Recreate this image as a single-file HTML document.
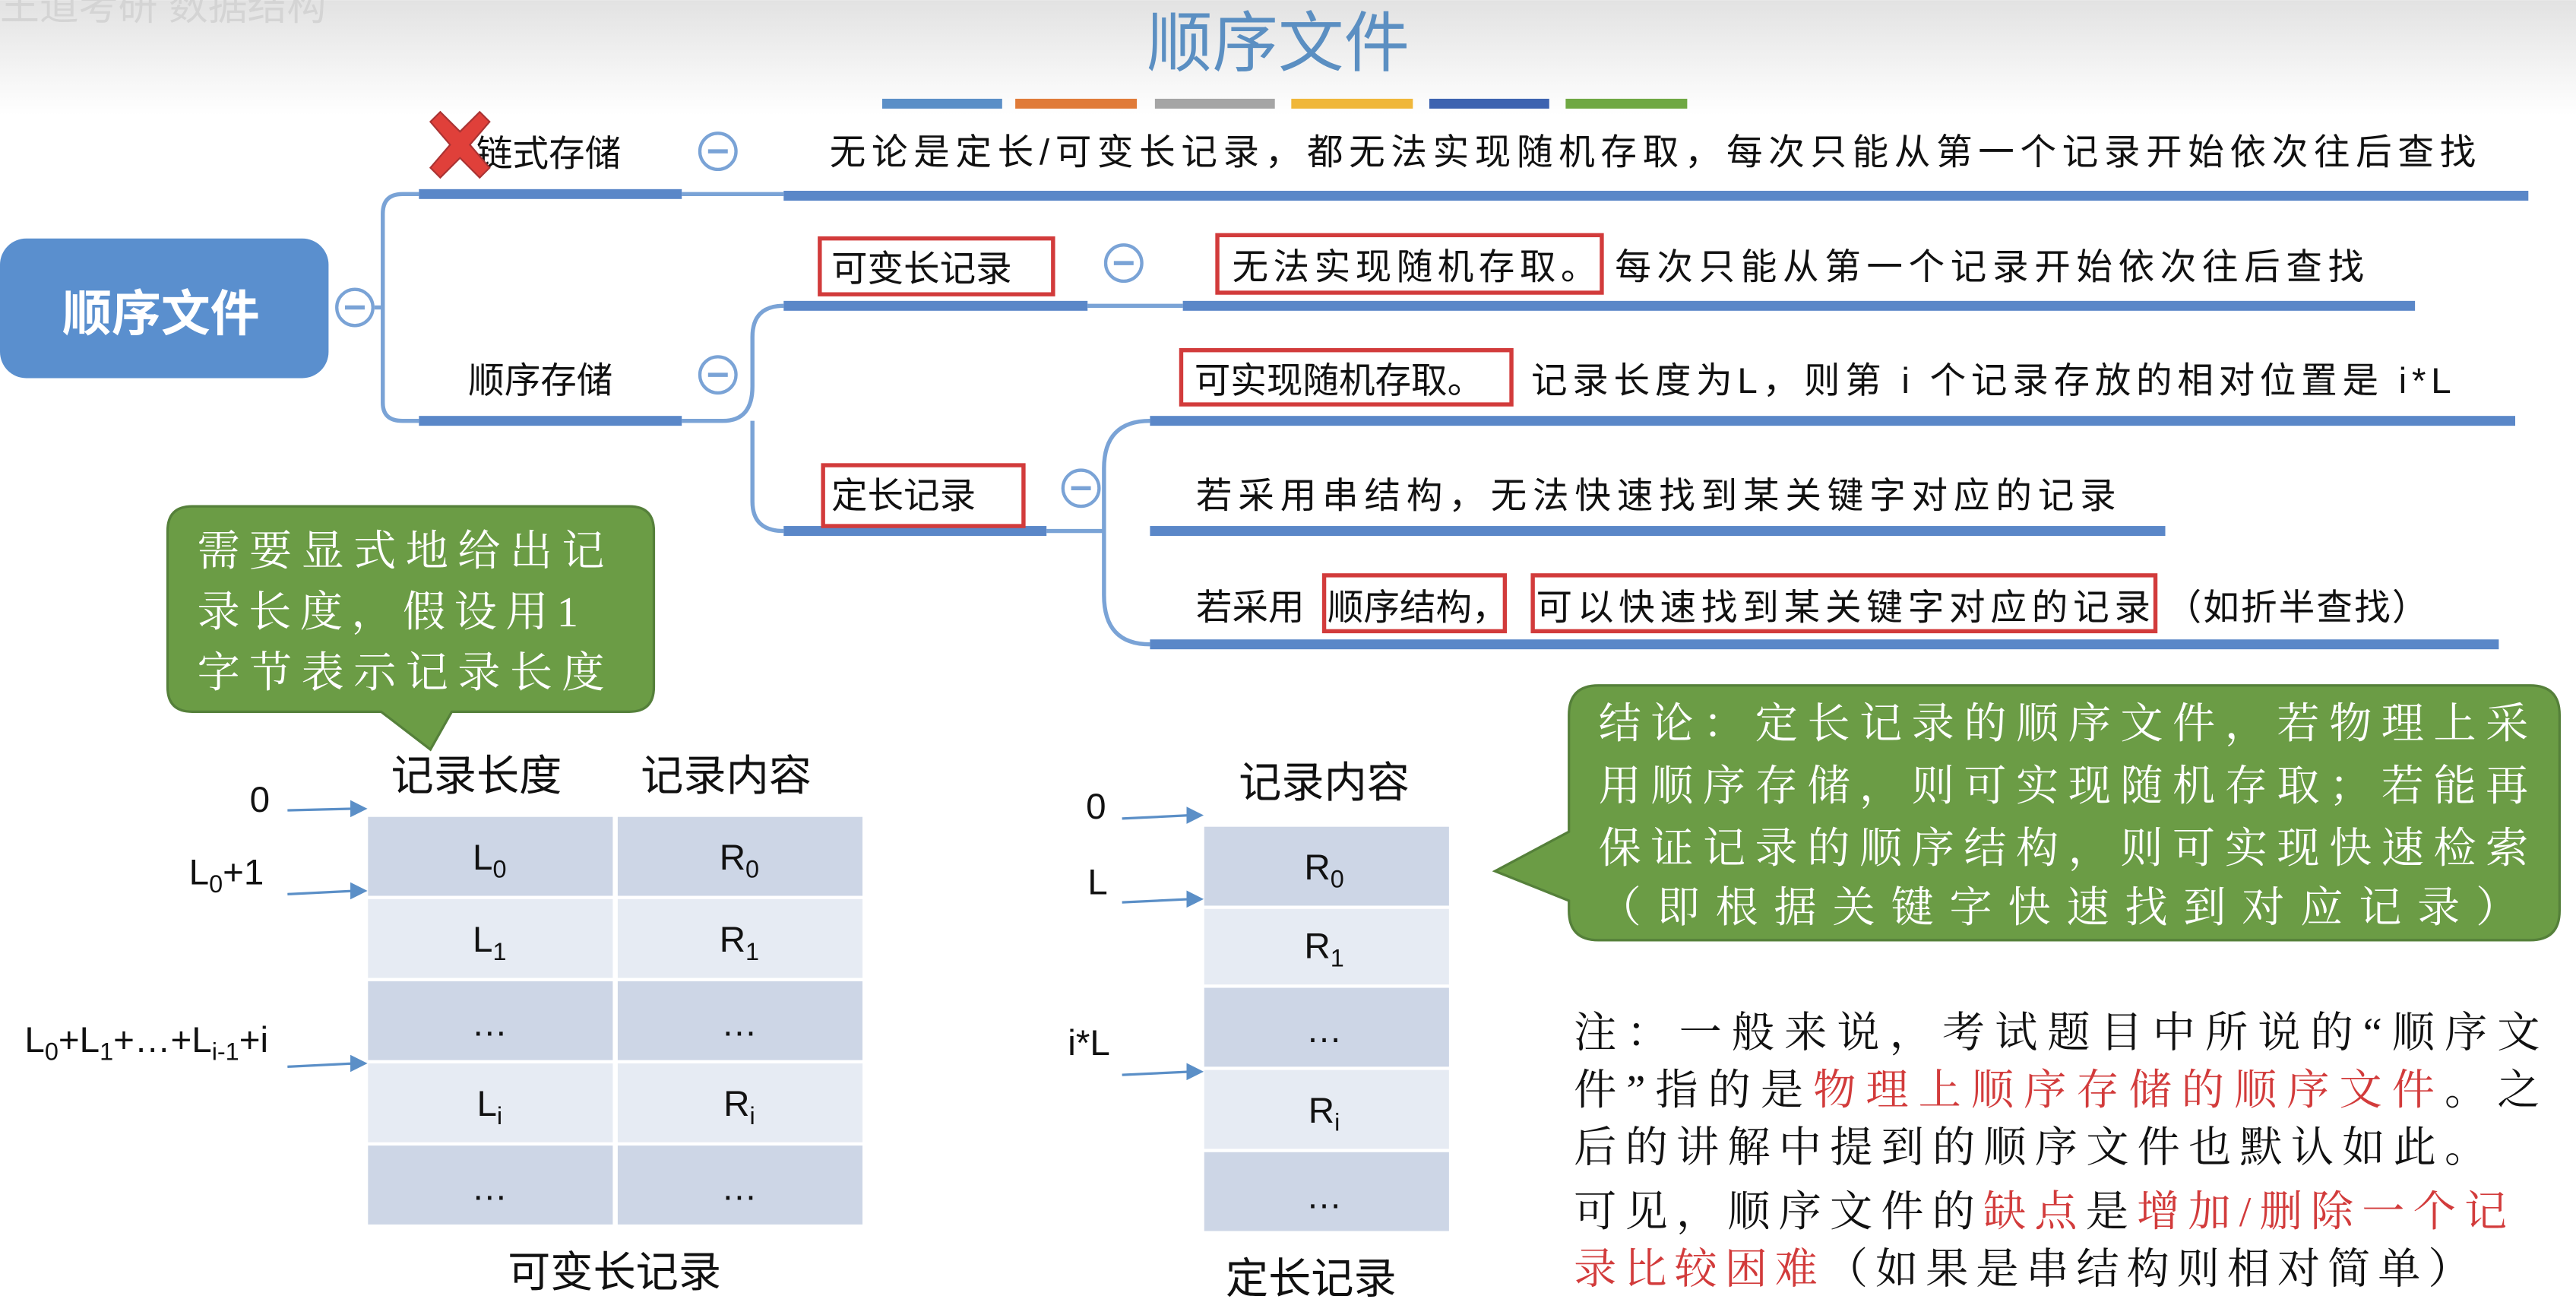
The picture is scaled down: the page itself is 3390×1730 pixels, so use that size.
<!DOCTYPE html>
<html><head><meta charset="utf-8"><style>
html,body{margin:0;padding:0;background:#fff;}
svg{display:block;}
.s{font-family:"Liberation Sans","Noto Sans CJK SC",sans-serif;}
.r{font-family:"Liberation Serif","Noto Serif CJK SC",serif;}
</style></head><body>
<svg width="3390" height="1730" viewBox="0 0 1568 800" xmlns="http://www.w3.org/2000/svg">
<defs>
<linearGradient id="bg" x1="0" y1="0" x2="0" y2="1">
<stop offset="0" stop-color="#e2e2e2"/><stop offset="1" stop-color="#ffffff"/>
</linearGradient>
</defs>
<rect width="1568" height="800" fill="#fff"/>
<rect width="1568" height="70" fill="url(#bg)"/>
<text x="0" y="12" class="s" font-size="24" fill="#d4d4d4">王道考研 数据结构</text>
<text x="778" y="40" class="s" font-size="40" fill="#5b8fc2" text-anchor="middle">顺序文件</text>
<g>
<rect x="537" y="60" width="73" height="6" fill="#5b8fc7"/>
<rect x="618" y="60" width="74" height="6" fill="#e07b39"/>
<rect x="703" y="60" width="73" height="6" fill="#a5a5a5"/>
<rect x="786" y="60" width="74" height="6" fill="#f0b73a"/>
<rect x="870" y="60" width="73" height="6" fill="#3d63b0"/>
<rect x="953" y="60" width="74" height="6" fill="#6fa843"/>
</g>
<!-- connectors -->
<g fill="none" stroke="#7aa3d6" stroke-width="2.5">
<path d="M228 187 L233 187"/>
<path d="M255 118 L245 118 Q233 118 233 130 L233 245 Q233 256 245 256 L255 256"/>
<path d="M415 118 L477 118"/>
<path d="M415 256 L440 256 Q458 256 458 235 L458 205 Q458 186 477 186"/>
<path d="M458 256 L458 305 Q458 323 477 323"/>
<path d="M662 186 L720 186"/>
<path d="M637 323 L672 323"/>
<path d="M700 256 Q672 256 672 285 L672 362 Q672 392 700 392"/>
</g>
<g fill="#5a87c8">
<rect x="255" y="115" width="160" height="6"/>
<rect x="477" y="116" width="1062" height="6"/>
<rect x="255" y="253" width="160" height="6"/>
<rect x="477" y="183" width="185" height="6"/>
<rect x="720" y="183" width="750" height="6"/>
<rect x="477" y="320" width="160" height="6"/>
<rect x="700" y="253" width="831" height="6"/>
<rect x="700" y="320" width="618" height="6"/>
<rect x="700" y="389" width="821" height="6"/>
</g>
<!-- root -->
<rect x="0" y="145" width="200" height="85" rx="16" fill="#5a8fce"/>
<text x="98" y="201" class="s" font-size="30" font-weight="bold" fill="#fff" text-anchor="middle">顺序文件</text>
<g fill="#fff" stroke="#7aa3d6" stroke-width="2">
<circle cx="216" cy="187" r="11"/><circle cx="437" cy="92" r="11"/><circle cx="437" cy="228" r="11"/>
<circle cx="684" cy="160" r="11"/><circle cx="658" cy="297" r="11"/>
</g>
<g stroke="#7aa3d6" stroke-width="2.5">
<path d="M210 187h12M431 92h12M431 228h12M678 160h12M652 297h12"/>
</g>
<!-- text -->
<g class="s" font-size="22" fill="#111">
<text x="290" y="101">链式存储</text>
<text x="285" y="239">顺序存储</text>
<text x="505" y="100" textLength="1002" lengthAdjust="spacing">无论是定长/可变长记录，都无法实现随机存取，每次只能从第一个记录开始依次往后查找</text>
<text x="506" y="171">可变长记录</text>
<text x="506" y="309">定长记录</text>
<text x="750" y="170" textLength="222" lengthAdjust="spacing">无法实现随机存取。</text>
<text x="983" y="170" textLength="456" lengthAdjust="spacing">每次只能从第一个记录开始依次往后查找</text>
<text x="727" y="239">可实现随机存取。</text>
<text x="932" y="239" textLength="560" lengthAdjust="spacing">记录长度为L，则第 i 个记录存放的相对位置是 i*L</text>
<text x="728" y="309" textLength="560" lengthAdjust="spacing">若采用串结构，无法快速找到某关键字对应的记录</text>
<text x="728" y="377">若采用</text>
<text x="808" y="377">顺序结构，</text>
<text x="935" y="377" textLength="374" lengthAdjust="spacing">可以快速找到某关键字对应的记录</text>
<text x="1318" y="377" textLength="160" lengthAdjust="spacing">（如折半查找）</text>
</g>
<g fill="none" stroke="#d23b3b" stroke-width="2.5">
<rect x="499" y="145" width="142" height="34"/>
<rect x="741" y="143" width="234" height="35"/>
<rect x="501" y="283" width="122" height="37"/>
<rect x="719" y="213" width="201" height="33"/>
<rect x="806" y="350" width="110" height="34"/>
<rect x="933" y="350" width="379" height="34"/>
</g>
<!-- red X -->
<g transform="translate(280,88)">
<path d="M-18 -14 L-12 -20 L0 -8 L12 -20 L18 -14 L6 0 L18 14 L12 20 L0 8 L-12 20 L-18 14 L-6 0 Z" fill="#e0403a" stroke="#a33" stroke-width="1"/>
</g>
<!-- callout 1 -->
<path d="M117 308 H383 Q398 308 398 323 V418 Q398 433 383 433 H275 L262 456 L232 433 H117 Q102 433 102 418 V323 Q102 308 117 308 Z" fill="#6b9c45" stroke="#55803a" stroke-width="1.5"/>
<g class="r" font-size="26" fill="#fff">
<text x="120" y="344" textLength="248" lengthAdjust="spacing">需要显式地给出记</text>
<text x="120" y="381" textLength="232" lengthAdjust="spacing">录长度，假设用1</text>
<text x="120" y="418" textLength="248" lengthAdjust="spacing">字节表示记录长度</text>
</g>
<!-- left table -->
<g class="s" font-size="26" fill="#111">
<text x="238" y="481">记录长度</text>
<text x="390" y="481">记录内容</text>
</g>
<g>
<rect x="224" y="497" width="149" height="48" fill="#cdd6e6"/><rect x="376" y="497" width="149" height="48" fill="#cdd6e6"/>
<rect x="224" y="547" width="149" height="48" fill="#e6ebf3"/><rect x="376" y="547" width="149" height="48" fill="#e6ebf3"/>
<rect x="224" y="597" width="149" height="48" fill="#cdd6e6"/><rect x="376" y="597" width="149" height="48" fill="#cdd6e6"/>
<rect x="224" y="647" width="149" height="48" fill="#e6ebf3"/><rect x="376" y="647" width="149" height="48" fill="#e6ebf3"/>
<rect x="224" y="697" width="149" height="48" fill="#cdd6e6"/><rect x="376" y="697" width="149" height="48" fill="#cdd6e6"/>
</g>
<g class="s" font-size="22" fill="#111" text-anchor="middle">
<text x="298" y="529">L<tspan font-size="15" dy="5">0</tspan></text>
<text x="450" y="529">R<tspan font-size="15" dy="5">0</tspan></text>
<text x="298" y="579">L<tspan font-size="15" dy="5">1</tspan></text>
<text x="450" y="579">R<tspan font-size="15" dy="5">1</tspan></text>
<text x="298" y="630">…</text><text x="450" y="630">…</text>
<text x="298" y="679">L<tspan font-size="15" dy="5">i</tspan></text>
<text x="450" y="679">R<tspan font-size="15" dy="5">i</tspan></text>
<text x="298" y="730">…</text><text x="450" y="730">…</text>
</g>
<g class="s" font-size="22" fill="#111">
<text x="152" y="494">0</text>
<text x="115" y="538">L<tspan font-size="15" dy="5">0</tspan><tspan dy="-5">+1</tspan></text>
<text x="15" y="640">L<tspan font-size="15" dy="5">0</tspan><tspan dy="-5">+L</tspan><tspan font-size="15" dy="5">1</tspan><tspan dy="-5">+…+L</tspan><tspan font-size="15" dy="5">i-1</tspan><tspan dy="-5">+i</tspan></text>
<text x="374" y="783" font-size="26" text-anchor="middle">可变长记录</text>
</g>
<g stroke="#5b8fc7" stroke-width="1.5" fill="#5b8fc7">
<path d="M175 493 L216 492" fill="none"/><path d="M222 492 L214 488 L214 496Z"/>
<path d="M175 544 L216 542" fill="none"/><path d="M222 542 L214 538 L214 546Z"/>
<path d="M175 649 L216 647" fill="none"/><path d="M222 647 L214 643 L214 651Z"/>
<path d="M683 498 L725 496" fill="none"/><path d="M731 496 L723 492 L723 500Z"/>
<path d="M683 549 L725 547" fill="none"/><path d="M731 547 L723 543 L723 551Z"/>
<path d="M683 654 L725 652" fill="none"/><path d="M731 652 L723 648 L723 656Z"/>
</g>
<!-- right table -->
<text x="806" y="485" class="s" font-size="26" fill="#111" text-anchor="middle">记录内容</text>
<rect x="733" y="503" width="149" height="48" fill="#cdd6e6"/>
<rect x="733" y="553" width="149" height="46" fill="#e6ebf3"/>
<rect x="733" y="601" width="149" height="48" fill="#cdd6e6"/>
<rect x="733" y="651" width="149" height="48" fill="#e6ebf3"/>
<rect x="733" y="701" width="149" height="48" fill="#cdd6e6"/>
<g class="s" font-size="22" fill="#111" text-anchor="middle">
<text x="806" y="535">R<tspan font-size="15" dy="5">0</tspan></text>
<text x="806" y="583">R<tspan font-size="15" dy="5">1</tspan></text>
<text x="806" y="634">…</text>
<text x="806" y="683">R<tspan font-size="15" dy="5">i</tspan></text>
<text x="806" y="735">…</text>
</g>
<g class="s" font-size="22" fill="#111">
<text x="661" y="498">0</text>
<text x="662" y="544">L</text>
<text x="650" y="642">i*L</text>
<text x="798" y="787" font-size="26" text-anchor="middle">定长记录</text>
</g>
<!-- callout 2 -->
<path d="M973 417 H1540 Q1558 417 1558 435 V554 Q1558 572 1540 572 H973 Q955 572 955 554 V548 L910 530 L955 506 V435 Q955 417 973 417 Z" fill="#6b9c45" stroke="#55803a" stroke-width="1.5"/>
<g class="r" font-size="26" fill="#fff">
<text x="973" y="449" textLength="566" lengthAdjust="spacing">结论：定长记录的顺序文件，若物理上采</text>
<text x="973" y="487" textLength="566" lengthAdjust="spacing">用顺序存储，则可实现随机存取；若能再</text>
<text x="973" y="525" textLength="566" lengthAdjust="spacing">保证记录的顺序结构，则可实现快速检索</text>
<text x="973" y="561" textLength="560" lengthAdjust="spacing">（即根据关键字快速找到对应记录）</text>
</g>
<!-- note -->
<g class="r" font-size="26" fill="#111">
<text x="958" y="637" textLength="588" lengthAdjust="spacing">注：一般来说，考试题目中所说的“顺序文</text>
<text x="958" y="672" textLength="588" lengthAdjust="spacing">件”指的是<tspan fill="#d23b3b">物理上顺序存储的顺序文件</tspan>。之</text>
<text x="958" y="707" textLength="556" lengthAdjust="spacing">后的讲解中提到的顺序文件也默认如此。</text>
<text x="958" y="746" textLength="568" lengthAdjust="spacing">可见，顺序文件的<tspan fill="#d23b3b">缺点</tspan>是<tspan fill="#d23b3b">增加/删除一个记</tspan></text>
<text x="958" y="781" textLength="546" lengthAdjust="spacing"><tspan fill="#d23b3b">录比较困难</tspan>（如果是串结构则相对简单）</text>
</g>
</svg>
</body></html>
